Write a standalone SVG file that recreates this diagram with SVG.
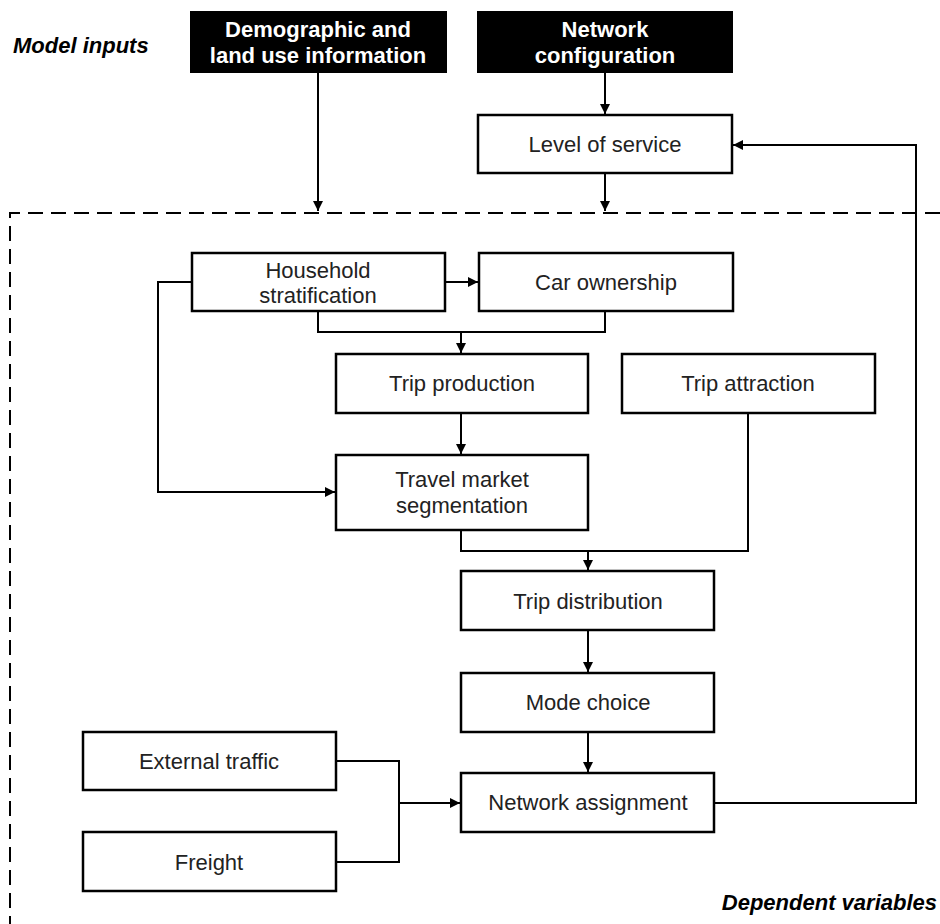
<svg xmlns="http://www.w3.org/2000/svg" width="940" height="924" viewBox="0 0 940 924">
<defs>
<marker id="ah" viewBox="0 0 10 10" refX="10" refY="5" markerWidth="10" markerHeight="10" markerUnits="userSpaceOnUse" orient="auto">
<path d="M0,0 L10,5 L0,10 z" fill="#000"/>
</marker>
<style>
.box{fill:#fff;stroke:#000;stroke-width:2.5}
.dark{fill:#000;stroke:#000;stroke-width:2}
.t{font-family:"Liberation Sans",Arial,sans-serif;font-size:22px;fill:#222;text-anchor:middle}
.tb{font-family:"Liberation Sans",Arial,sans-serif;font-size:22px;font-weight:bold;fill:#fff;text-anchor:middle}
.lab{font-family:"Liberation Sans",Arial,sans-serif;font-size:22px;font-weight:bold;font-style:italic;fill:#000}
.c{fill:none;stroke:#000;stroke-width:2}
.dash{fill:none;stroke:#000;stroke-width:2;stroke-dasharray:15 8}
</style>
</defs>
<rect width="940" height="924" fill="#fff"/>
<text class="lab" x="13" y="53">Model inputs</text>
<text class="lab" x="937" y="910" text-anchor="end">Dependent variables</text>
<path class="dash" d="M940,213 L10,213 L10,924"/>
<g id="connectors">
<path class="c" d="M318,72 V211" marker-end="url(#ah)"/>
<path class="c" d="M605,72 V114" marker-end="url(#ah)"/>
<path class="c" d="M605,173 V211" marker-end="url(#ah)"/>
<path class="c" d="M714,803 H916 V145 H733" marker-end="url(#ah)"/>
<path class="c" d="M445,282 H478" marker-end="url(#ah)"/>
<path class="c" d="M318,311 V332 H605 V311"/>
<path class="c" d="M461,332 V353" marker-end="url(#ah)"/>
<path class="c" d="M192,282 H158 V492 H335" marker-end="url(#ah)"/>
<path class="c" d="M461,413 V454" marker-end="url(#ah)"/>
<path class="c" d="M461,530 V551 H748 V413"/>
<path class="c" d="M588,551 V570" marker-end="url(#ah)"/>
<path class="c" d="M588,630 V672" marker-end="url(#ah)"/>
<path class="c" d="M588,732 V772" marker-end="url(#ah)"/>
<path class="c" d="M336,761 H399 V862 H336"/>
<path class="c" d="M399,803 H460" marker-end="url(#ah)"/>
</g>
<g id="demographic">
<rect class="dark" x="191" y="12" width="255" height="60"/>
<text class="tb" x="318" y="37">Demographic and</text>
<text class="tb" x="318" y="63">land use information</text>
</g>
<g id="network-config">
<rect class="dark" x="478" y="12" width="254" height="60"/>
<text class="tb" x="605" y="37">Network</text>
<text class="tb" x="605" y="63">configuration</text>
</g>
<g id="level-of-service">
<rect class="box" x="478" y="115" width="254" height="58"/>
<text class="t" x="605" y="152">Level of service</text>
</g>
<g id="household">
<rect class="box" x="192" y="253" width="253" height="58"/>
<text class="t" x="318" y="278">Household</text>
<text class="t" x="318" y="303">stratification</text>
</g>
<g id="car-ownership">
<rect class="box" x="479" y="253" width="254" height="58"/>
<text class="t" x="606" y="290">Car ownership</text>
</g>
<g id="trip-production">
<rect class="box" x="336" y="354" width="252" height="59"/>
<text class="t" x="462" y="391">Trip production</text>
</g>
<g id="trip-attraction">
<rect class="box" x="622" y="354" width="253" height="59"/>
<text class="t" x="748" y="391">Trip attraction</text>
</g>
<g id="travel-market">
<rect class="box" x="336" y="455" width="252" height="75"/>
<text class="t" x="462" y="487">Travel market</text>
<text class="t" x="462" y="513">segmentation</text>
</g>
<g id="trip-distribution">
<rect class="box" x="461" y="571" width="253" height="59"/>
<text class="t" x="588" y="609">Trip distribution</text>
</g>
<g id="mode-choice">
<rect class="box" x="461" y="673" width="253" height="59"/>
<text class="t" x="588" y="710">Mode choice</text>
</g>
<g id="network-assignment">
<rect class="box" x="461" y="773" width="253" height="59"/>
<text class="t" x="588" y="810">Network assignment</text>
</g>
<g id="external-traffic">
<rect class="box" x="83" y="732" width="253" height="58"/>
<text class="t" x="209" y="769">External traffic</text>
</g>
<g id="freight">
<rect class="box" x="83" y="832" width="253" height="59"/>
<text class="t" x="209" y="870">Freight</text>
</g>
</svg>
